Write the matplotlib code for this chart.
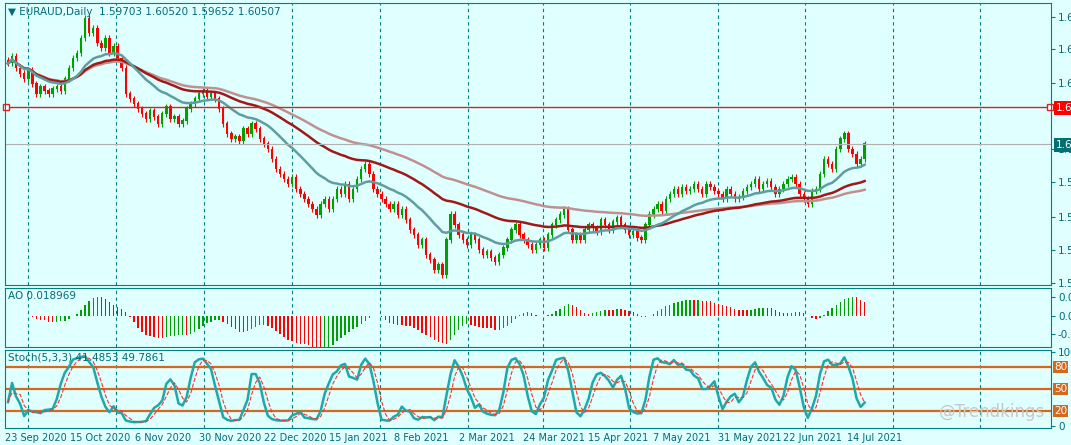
import matplotlib
matplotlib.use("Agg")
import matplotlib.pyplot as plt
import numpy as np
import pandas as pd

# approximate daily closes
closes = [1.6531,1.6573,1.6501,1.6471,1.6441,1.6489,1.6411,1.6351,1.6393,1.6369,
1.6351,1.6381,1.6393,1.6369,1.6441,1.6501,1.6561,1.6591,1.6681,1.6801,
1.6711,1.6741,1.6651,1.6621,1.6681,1.6591,1.6633,1.6561,1.6501,1.6351,
1.6321,1.6291,1.6261,1.6231,1.6201,1.6249,1.6213,1.6171,1.6231,1.6273,
1.6201,1.6213,1.6171,1.6189,1.6261,1.6291,1.6321,1.6351,1.6369,1.6333,
1.6351,1.6321,1.6261,1.6171,1.6111,1.6081,1.6093,1.6069,1.6141,1.6111,
1.6171,1.6141,1.6081,1.6051,1.6021,1.5961,1.5901,1.5871,1.5841,1.5811,
1.5853,1.5781,1.5751,1.5721,1.5691,1.5661,1.5631,1.5691,1.5721,1.5661,
1.5721,1.5781,1.5751,1.5811,1.5721,1.5781,1.5841,1.5901,1.5931,1.5871,
1.5781,1.5751,1.5721,1.5691,1.5661,1.5691,1.5631,1.5661,1.5601,1.5541,
1.5511,1.5451,1.5481,1.5391,1.5361,1.5301,1.5331,1.5271,1.5481,1.5631,
1.5571,1.5511,1.5481,1.5451,1.5511,1.5481,1.5421,1.5391,1.5409,1.5373,
1.5349,1.5391,1.5433,1.5481,1.5541,1.5571,1.5511,1.5481,1.5451,1.5421,
1.5451,1.5481,1.5433,1.5511,1.5571,1.5601,1.5631,1.5661,1.5541,1.5481,
1.5511,1.5481,1.5541,1.5571,1.5553,1.5529,1.5601,1.5571,1.5541,1.5589,
1.5613,1.5571,1.5541,1.5511,1.5529,1.5493,1.5481,1.5571,1.5631,1.5661,
1.5691,1.5649,1.5721,1.5751,1.5781,1.5751,1.5793,1.5769,1.5781,1.5811,
1.5781,1.5751,1.5811,1.5793,1.5769,1.5751,1.5721,1.5781,1.5751,1.5721,
1.5733,1.5769,1.5793,1.5811,1.5841,1.5781,1.5811,1.5829,1.5793,1.5751,
1.5781,1.5811,1.5841,1.5853,1.5811,1.5751,1.5721,1.5691,1.5769,1.5781,
1.5871,1.5961,1.5931,1.5901,1.6021,1.6081,1.6111,1.6021,1.5991,1.5931,
1.5961,1.6051]
date_labels = ["23 Sep 2020","15 Oct 2020","6 Nov 2020","30 Nov 2020","22 Dec 2020",
"15 Jan 2021","8 Feb 2021","2 Mar 2021","24 Mar 2021","15 Apr 2021","7 May 2021",
"31 May 2021","22 Jun 2021","14 Jul 2021"]
hline_level = 1.6273
title_main = "EURAUD,Daily  1.59703 1.60520 1.59652 1.60507"

BG = "#e0ffff"; FR = "#008080"; TXT = "#006b7a"
c = np.array(closes); n = len(c)
o = np.r_[c[0] + 0.002, c[:-1]]
h = np.maximum(o, c) + 0.0018
l = np.minimum(o, c) - 0.0018
x = np.arange(n)

s = pd.Series(c)
ma1 = s.ewm(span=20).mean(); ma2 = s.ewm(span=50).mean(); ma3 = s.ewm(span=90).mean()
med = pd.Series((h + l) / 2)
ao = (med.rolling(5, min_periods=1).mean() - med.rolling(34, min_periods=1).mean()).values
hh = pd.Series(h).rolling(5, min_periods=1).max(); ll = pd.Series(l).rolling(5, min_periods=1).min()
k = ((s - ll).rolling(3, min_periods=1).sum() / (hh - ll).rolling(3, min_periods=1).sum() * 100)
d = k.rolling(3, min_periods=1).mean()

W, H = 1071, 445
px = 4.06  # pixels per bar
xmin = -3 / px
xmax = xmin + 1046 / px
fig = plt.figure(figsize=(W/100, H/100), dpi=100, facecolor=BG)
def mk(top, bot):
    ax = fig.add_axes([5/W, 1 - bot/H, 1046/W, (bot - top)/H], facecolor=BG)
    for sp in ax.spines.values(): sp.set_color(FR)
    ax.yaxis.tick_right()
    ax.tick_params(axis='y', colors=FR, labelcolor=TXT, labelsize=7.5, length=3, pad=2)
    ax.tick_params(axis='x', length=0, labelbottom=False)
    ax.set_xlim(xmin, xmax)
    return ax
ax1 = mk(3, 285); ax2 = mk(288, 347); ax3 = mk(350, 428)

gridx = [(g - 8) / px for g in [28, 116, 204, 292, 380, 468, 543, 630, 718, 805, 893, 980]]
for ax in (ax1, ax2, ax3):
    for g in gridx:
        ax.axvline(g, color=FR, ls=(0, (3, 3)), lw=0.8, zorder=0)

# candles
for i in x:
    col = "#00a000" if c[i] >= o[i] else "#ff0000"
    ax1.vlines(i, l[i], h[i], color=col, lw=0.8)
    ax1.bar(i, abs(c[i]-o[i]) + 0.0003, bottom=min(o[i], c[i]), width=0.6, color=col, lw=0)
ax1.plot(x, ma3, color="#c09090", lw=1.8)
ax1.plot(x, ma2, color="#a01818", lw=1.8)
ax1.plot(x, ma1, color="#5f9ea0", lw=1.8)
ax1.axhline(hline_level, color="#e02020", lw=1)
ax1.plot([xmin + 0.3], [hline_level], marker='s', mfc='white', mec='#e02020', ms=5, clip_on=False)
ax1.plot([xmax - 0.3], [hline_level], marker='s', mfc='white', mec='#e02020', ms=5, clip_on=False)
ax1.axhline(c[-1], color="#b0b0b0", lw=0.8)
top_p = 1.6891; bot_p = 1.5211
ax1.set_ylim(bot_p, top_p)
yt = [top_p - (yp - 5) * 0.0006 for yp in [19, 51, 84, 150, 183, 217, 250, 283]]
ax1.set_yticks(yt); ax1.set_yticklabels([f"{v:.4f}" for v in yt])
ax1.text(1056/W, 1 - 108/H, "1.6273", transform=fig.transFigure, color="white", fontsize=7.5,
         va='center', bbox=dict(fc="#ff0000", ec="none", pad=1.5))
ax1.text(1056/W, 1 - 145/H, "1.6051", transform=fig.transFigure, color="white", fontsize=7.5,
         va='center', bbox=dict(fc="#007070", ec="none", pad=1.5))
ax1.text(0.003, 0.985, "\u25BC " + title_main, transform=ax1.transAxes, color=TXT, fontsize=7.5, va='top')

# AO
aoc = ["#00a000" if i > 0 and ao[i] >= ao[i-1] else "#ff0000" for i in x]
ax2.bar(x, ao, width=0.35, color=aoc, lw=0)
ax2.set_ylim(-0.034, 0.030)
ax2.set_yticks([0.02, 0.0, -0.02]); ax2.set_yticklabels(["0.0200", "0.0000", "-0.0200"])
ax2.text(0.003, 0.95, "AO 0.018969", transform=ax2.transAxes, color=TXT, fontsize=7.5, va='top')

# Stoch
for lv in (80, 50, 20):
    ax3.axhline(lv, color="#d2691e", lw=1.6)
ax3.plot(x, k, color="#20a8a8", lw=1.8)
ax3.plot(x, d, color="#ff3030", lw=0.8, ls='--')
ax3.set_ylim(-3, 103)
ax3.set_yticks([100, 0]); ax3.set_yticklabels(["100", "0"])
for lv in (80, 50, 20):
    ax3.text(1054/W, ax3.transData.transform((0, lv))[1] / fig.dpi / (H/100), str(lv),
             transform=fig.transFigure, color="white", fontsize=7.5, va='center',
             bbox=dict(fc="#d2691e", ec="none", pad=1))
ax3.text(0.003, 0.97, "Stoch(5,3,3) 41.4853 49.7861", transform=ax3.transAxes, color=TXT, fontsize=7.5, va='top')
ax3.text(1045/W, 1 - 412/H, "@Trendkings", transform=fig.transFigure, color="#c8c8c8",
         fontsize=12, ha='right', va='center')

# date labels
for i, lab in enumerate(date_labels):
    xc = 5 + 64.8 * i
    fig.text(xc/W, 1 - 438/H, lab, color=TXT, fontsize=7, ha='left', va='center')

fig.savefig("out.png", dpi=100, facecolor=BG)
